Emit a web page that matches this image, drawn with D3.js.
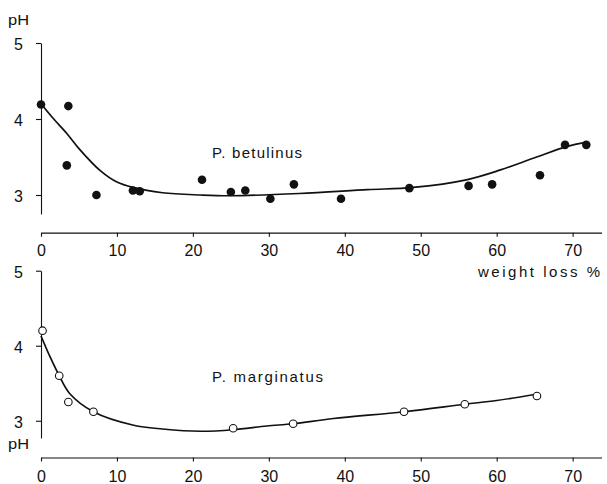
<!DOCTYPE html>
<html>
<head>
<meta charset="utf-8">
<script src="https://cdn.jsdelivr.net/npm/d3@7"></script>
<style>
  html, body { margin: 0; padding: 0; background: #fff; }
  svg text { font-family: "Liberation Sans", Arial, sans-serif; fill: #111; }
</style>
</head>
<body>
<svg id="chart" width="607" height="484"></svg>
<script>
// Weight loss (%) and pH measurements, P. betulinus
const betulinusLoss = [0, 3.6, 3.4, 7.3, 12.1, 13.0, 21.2, 25.0, 26.9, 30.2, 33.3, 39.5, 48.5, 56.3, 59.4, 65.7, 69.0, 71.8];
const betulinusPH   = [4.19, 4.17, 3.39, 3.00, 3.06, 3.05, 3.20, 3.04, 3.06, 2.95, 3.14, 2.95, 3.09, 3.12, 3.14, 3.26, 3.66, 3.66];
// Fitted trend, P. betulinus
const betulinusFitLoss = [0, 1.5, 3.4, 5, 7.8, 10, 12.1, 16, 21, 25, 34, 43, 49, 56, 60.5, 65, 69.3, 72];
const betulinusFitPH   = [4.2, 4.02, 3.81, 3.61, 3.32, 3.17, 3.10, 3.03, 3.0, 2.99, 3.02, 3.07, 3.10, 3.2, 3.33, 3.49, 3.64, 3.70];

// Weight loss (%) and pH measurements, P. marginatus
const marginatusLoss = [0.2, 2.4, 3.6, 6.9, 25.3, 33.2, 47.8, 55.8, 65.3];
const marginatusPH   = [4.20, 3.60, 3.25, 3.12, 2.90, 2.96, 3.12, 3.22, 3.33];
// Fitted trend, P. marginatus
const marginatusFitLoss = [0, 1.2, 2.4, 3.8, 6.9, 12.2, 16, 21, 25.3, 29.7, 33.2, 38.5, 47.8, 55.8, 60, 65];
const marginatusFitPH   = [4.13, 3.85, 3.6, 3.36, 3.12, 2.94, 2.89, 2.86, 2.88, 2.93, 2.96, 3.03, 3.12, 3.22, 3.27, 3.35];

const lossTicks = [0, 10, 20, 30, 40, 50, 60, 70];
const phTicks = [3, 4, 5];

const svg = d3.select("#chart");

function panel(opt) {
  const g = svg.append("g");
  const x = d3.scaleLinear().domain([0, 73.8]).range([41, 601.5]);
  const y = d3.scaleLinear().domain([opt.phMin, 5]).range([opt.yBottom, opt.yTop]);

  // x axis
  const xa = g.append("g")
    .attr("transform", `translate(0,${opt.xAxisY})`)
    .call(d3.axisBottom(x).tickValues(lossTicks).tickFormat(d3.format("d")).tickSize(4).tickSizeOuter(0));
  xa.select(".domain").attr("stroke", "#111").attr("stroke-width", 1.2);
  xa.selectAll(".tick line").attr("stroke", "#111").attr("stroke-width", 1.1);
  xa.selectAll(".tick text").attr("y", opt.xLabelOffset).attr("dy", 0)
    .style("font-size", "16px").style("font-family", "'Liberation Sans', Arial, sans-serif");

  // y axis
  const ya = g.append("g")
    .attr("transform", "translate(41,0)")
    .call(d3.axisLeft(y).tickValues(phTicks).tickFormat(d3.format("d")).tickSize(5).tickSizeOuter(0).tickPadding(13));
  ya.select(".domain").attr("stroke", "#111").attr("stroke-width", 1.1);
  ya.selectAll(".tick line").attr("stroke", "#111").attr("stroke-width", 1.1);
  ya.selectAll(".tick text").attr("dy", "0.4em")
    .style("font-size", "16px").style("font-family", "'Liberation Sans', Arial, sans-serif");

  // fitted curve
  const line = d3.line()
    .x(d => x(d[0])).y(d => y(d[1]))
    .curve(d3.curveCatmullRom.alpha(0.5));
  g.append("path")
    .datum(d3.zip(opt.fitLoss, opt.fitPH))
    .attr("d", line)
    .attr("fill", "none")
    .attr("stroke", "#111")
    .attr("stroke-width", 1.7);

  // measured points
  g.selectAll("circle.pt")
    .data(d3.zip(opt.loss, opt.ph))
    .join("circle")
    .attr("class", "pt")
    .attr("cx", d => x(d[0]))
    .attr("cy", d => y(d[1]))
    .attr("r", opt.filled ? 4.3 : 3.8)
    .attr("fill", opt.filled ? "#111" : "#fff")
    .attr("stroke", "#111")
    .attr("stroke-width", opt.filled ? 0 : 1.1);

  // species label
  g.append("text")
    .attr("x", 212).attr("y", opt.labelY)
    .attr("textLength", opt.labelLen).attr("lengthAdjust", "spacing")
    .style("font-size", "15px")
    .text(opt.label);

  // pH axis title
  g.append("text")
    .attr("x", 8).attr("y", opt.phTitleY)
    .attr("textLength", 21).attr("lengthAdjust", "spacingAndGlyphs")
    .style("font-size", "15px")
    .text("pH");
}

panel({
  phMin: 2.75, yTop: 43, yBottom: 214, xAxisY: 232.7, xLabelOffset: 23,
  loss: betulinusLoss, ph: betulinusPH, fitLoss: betulinusFitLoss, fitPH: betulinusFitPH,
  filled: true, label: "P. betulinus", labelY: 157.5, labelLen: 90, phTitleY: 25
});

panel({
  phMin: 2.77, yTop: 270.7, yBottom: 438, xAxisY: 457.5, xLabelOffset: 24.5,
  loss: marginatusLoss, ph: marginatusPH, fitLoss: marginatusFitLoss, fitPH: marginatusFitPH,
  filled: false, label: "P. marginatus", labelY: 381.5, labelLen: 111, phTitleY: 449
});

// shared x axis title
svg.append("text")
  .attr("x", 478).attr("y", 277)
  .attr("textLength", 122).attr("lengthAdjust", "spacing")
  .style("font-size", "15px")
  .text("weight loss %");
</script>
</body>
</html>
